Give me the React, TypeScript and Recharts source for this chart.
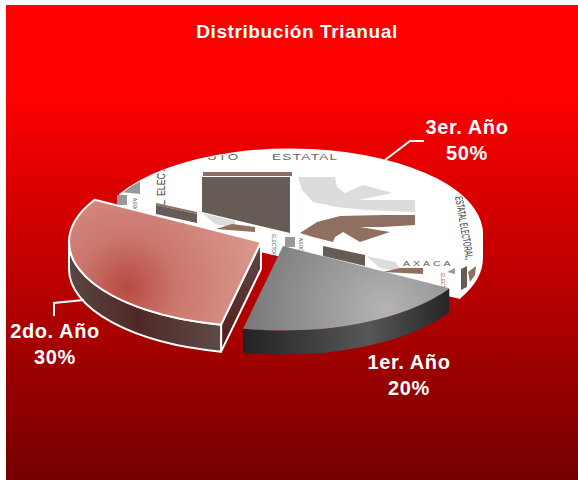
import { PieChart, Pie } from "recharts";

const categories = ["3er. Año", "2do. Año", "1er. Año"];
const shares = [50, 30, 20];
const data = categories.map((name, i) => ({ name, value: shares[i] }));

const FONT = "'Liberation Sans', Arial, sans-serif";
const SQUASH = 0.44;
const BROWN = "#8f6f60";
const SLATE = "#665c55";
const LIGHT = "#dcdcdc";
const MID = "#999999";

// how each slice is pulled out of the pie and painted
const sliceLook: Record<string, any> = {
  "3er. Año": { dx: 1, dy: -6, turn: 2, depth: 24, top: "#ffffff", wall: "#ffffff", cut: "#ffffff", stroke: "#ffffff" },
  "2do. Año": { dx: -28, dy: 2, turn: 0, depth: 27, top: "url(#pinkTop)", wall: "url(#pinkWall)", cut: "url(#pinkCut)", stroke: "#ffffff" },
  "1er. Año": { dx: -6, dy: 6, turn: 0, depth: 24, top: "url(#grayTop)", wall: "url(#grayWall)", cut: null, stroke: "none" },
};

const labelSpots: Record<string, any> = {
  "3er. Año": { x: 467, y: 134, line: "385,160 410,141 424,141" },
  "2do. Año": { x: 55, y: 338, line: "84,300 54,303 54,316" },
  "1er. Año": { x: 409, y: 369, line: null },
};

function ptOn(cx: number, cy: number, r: number, deg: number) {
  const a = (deg * Math.PI) / 180;
  return [cx + r * Math.cos(a), cy - r * SQUASH * Math.sin(a)];
}

function WhiteArt() {
  return (
    <g>
      <polygon fill={MID} points="120,192 140,178 140,194" />
      <rect x={203} y={172} width={89} height={4} fill={BROWN} />
      <polygon fill={SLATE} points="202,177 290,177 290,233 202,212" />
      <polygon fill={LIGHT} points="298,177 335,177 337,187 345,193 363,185 393,193 358,200 415,200 415,212 365,210 337,207 313,202 302,190" />
      <polygon fill={BROWN} points="300,233 317,222 340,216 383,215 415,215 415,225 383,227 360,227 390,232 360,242 343,232 335,237 333,242 313,237" />
      <text transform="translate(207,160) scale(1.5,1)" fontFamily={FONT} fontSize={9} letterSpacing={1} fill="#666">UTO</text>
      <text transform="translate(272,160) scale(1.5,1)" fontFamily={FONT} fontSize={9} letterSpacing={0.9} fill="#666">ESTATAL</text>
      <text transform="translate(165,196) rotate(-90) scale(0.8,1.05)" fontFamily={FONT} fontSize={11} fill="#333">ELECTO</text>
      <text transform="translate(165,206) rotate(-90)" fontFamily={FONT} fontSize={11} fill="#333">L</text>
      <text transform="translate(455,197) rotate(80) scale(0.55,1)" fontFamily={FONT} fontSize={11} fill="#333">ESTATAL ELECTORAL,</text>
    </g>
  );
}

function WhiteWallArt() {
  return (
    <g>
      <rect x={117} y={195} width={10} height={10} fill={MID} />
      <polygon fill={BROWN} points="156,203 197,212 197,214 156,205" />
      <polygon fill={SLATE} points="156,205 197,214 197,223 156,214" />
      <polygon fill={LIGHT} points="202,213 235,221 235,228 215,224" />
      <polygon fill={BROWN} points="216,229 232,224 255,227 255,232" />
      <text transform="translate(133,198) rotate(90) scale(0.8,1)" fontFamily={FONT} fontSize={6} fill="#444">ASOC</text>
      <text transform="translate(272,234) rotate(90) scale(0.8,1)" fontFamily={FONT} fontSize={6} fill="#444">ELECTORAL</text>
      <rect x={285} y={237} width={10} height={10} fill={MID} />
      <text transform="translate(299,238) rotate(90) scale(0.8,1)" fontFamily={FONT} fontSize={6} fill="#444">ASOC</text>
      <polygon fill={SLATE} points="323,246 365,255 365,266 323,256" />
      <polygon fill={LIGHT} points="366,256 395,262 403,272 380,268" />
      <polygon fill={BROWN} points="383,272 400,268 423,268 423,274" />
      <text transform="translate(403,266) scale(1.5,1)" fontFamily={FONT} fontSize={7} letterSpacing={2} fill="#555">AXACA</text>
      <polygon fill={MID} points="447,272 455,268 455,274" />
      <text transform="translate(441,273) rotate(90) scale(0.8,1)" fontFamily={FONT} fontSize={6} fill="#444">ELECT</text>
      <polygon fill={SLATE} points="461,269 467,266 467,287 461,290" />
      <polygon fill={BROWN} points="468,272 476,266 475,275 470,282" />
    </g>
  );
}

// Pie hands us the computed angles, the shape squashes them into a tilted disc
function TiltedSlice(props: any) {
  const { cx, cy, outerRadius: r, startAngle, endAngle, name } = props;
  const look = sliceLook[name];
  const x = cx + look.dx;
  const y = cy + look.dy;
  const ry = r * SQUASH;
  const lo = Math.min(startAngle, endAngle) + look.turn;
  const hi = Math.max(startAngle, endAngle) + look.turn;
  const [sx, sy] = ptOn(x, y, r, lo);
  const [ex, ey] = ptOn(x, y, r, hi);
  const large = hi - lo > 180 ? 1 : 0;
  const topPath = `M${x},${y}L${sx},${sy}A${r},${ry} 0 ${large} 0 ${ex},${ey}Z`;

  // outer rim: only the part of the arc that faces the viewer
  let a0 = lo;
  let a1 = hi;
  if (a0 < 0) {
    a1 = Math.min(a1, 0);
  } else {
    a0 = Math.max(a0, 180);
    a1 = Math.min(a1, 360);
  }
  const [ax, ay] = ptOn(x, y, r, a0);
  const [bx, by] = ptOn(x, y, r, a1);
  const rim = `M${ax},${ay}A${r},${ry} 0 0 0 ${bx},${by}L${bx},${by + look.depth}A${r},${ry} 0 0 1 ${ax},${ay + look.depth}Z`;

  const sw = look.stroke === "none" ? 0 : 2;
  const isWhite = name === categories[0];
  const faceAt = isWhite ? [lo, hi] : look.cut ? [hi] : [];

  return (
    <g>
      {faceAt.map((deg: number) => {
        const [fx, fy] = ptOn(x, y, r, deg);
        return (
          <polygon
            key={deg}
            points={`${x},${y} ${fx},${fy} ${fx},${fy + look.depth} ${x},${y + look.depth}`}
            fill={look.cut}
            stroke={look.stroke}
            strokeWidth={sw}
            strokeLinejoin="round"
          />
        );
      })}
      <path d={rim} fill={look.wall} stroke={look.stroke} strokeWidth={sw} strokeLinejoin="round" />
      <path d={topPath} fill={look.top} stroke={look.stroke} strokeWidth={sw} strokeLinejoin="round" />
      {isWhite && (
        <>
          <WhiteWallArt />
          <clipPath id="whiteClip">
            <path d={topPath} />
          </clipPath>
          <g clipPath="url(#whiteClip)">
            <WhiteArt />
          </g>
        </>
      )}
    </g>
  );
}

function SliceLabel(props: any) {
  const { name, percent } = props;
  const spot = labelSpots[name];
  const textProps = {
    x: spot.x,
    textAnchor: "middle" as const,
    fontFamily: FONT,
    fontWeight: 700,
    fontSize: 20,
    letterSpacing: 0.6,
    fill: "#ffffff",
  };
  return (
    <g>
      {spot.line && <polyline points={spot.line} fill="none" stroke="#ffffff" strokeWidth={2} />}
      <text {...textProps} y={spot.y}>{name}</text>
      <text {...textProps} y={spot.y + 26}>{`${Math.round(percent * 100)}%`}</text>
    </g>
  );
}

export default function App() {
  return (
    <div style={{ position: "absolute", left: 0, top: 0, width: 578, height: 480, background: "#ffffff", overflow: "hidden" }}>
      <div
        style={{
          position: "absolute",
          left: 6,
          top: 5,
          width: 572,
          height: 475,
          background: "linear-gradient(to bottom, #ff0000 0%, #ff0000 18%, #740000 100%)",
        }}
      />
      <PieChart width={578} height={480} margin={{ top: 0, right: 0, bottom: 0, left: 0 }} style={{ position: "absolute", left: 0, top: 0 }}>
        <defs>
          <radialGradient id="pinkTop" gradientUnits="userSpaceOnUse" cx={127} cy={287} r={130}>
            <stop offset="0%" stopColor="#b84a42" />
            <stop offset="40%" stopColor="#cb786e" />
            <stop offset="100%" stopColor="#d9968b" />
          </radialGradient>
          <linearGradient id="pinkWall" gradientUnits="userSpaceOnUse" x1={68} y1={0} x2={222} y2={0}>
            <stop offset="0%" stopColor="#5a4643" />
            <stop offset="45%" stopColor="#4f2826" />
            <stop offset="100%" stopColor="#5e4b47" />
          </linearGradient>
          <linearGradient id="pinkCut" gradientUnits="userSpaceOnUse" x1={0} y1={245} x2={0} y2={348}>
            <stop offset="0%" stopColor="#5e4a46" />
            <stop offset="100%" stopColor="#551a18" />
          </linearGradient>
          <radialGradient id="grayTop" gradientUnits="userSpaceOnUse" cx={385} cy={310} r={150}>
            <stop offset="0%" stopColor="#b4b4b4" />
            <stop offset="100%" stopColor="#747474" />
          </radialGradient>
          <linearGradient id="grayWall" gradientUnits="userSpaceOnUse" x1={243} y1={0} x2={452} y2={0}>
            <stop offset="0%" stopColor="#222222" />
            <stop offset="60%" stopColor="#575757" />
            <stop offset="100%" stopColor="#232323" />
          </linearGradient>
        </defs>
        <text x={297} y={38} textAnchor="middle" fontFamily={FONT} fontWeight={700} fontSize={19} letterSpacing={0.6} fill="#ffffff">
          Distribución Trianual
        </text>
        <Pie
          data={data}
          dataKey="value"
          nameKey="name"
          cx={289}
          cy={240}
          outerRadius={192}
          startAngle={-30}
          endAngle={330}
          stroke="none"
          shape={TiltedSlice}
          label={SliceLabel}
          labelLine={false}
          isAnimationActive={false}
        />
      </PieChart>
    </div>
  );
}
